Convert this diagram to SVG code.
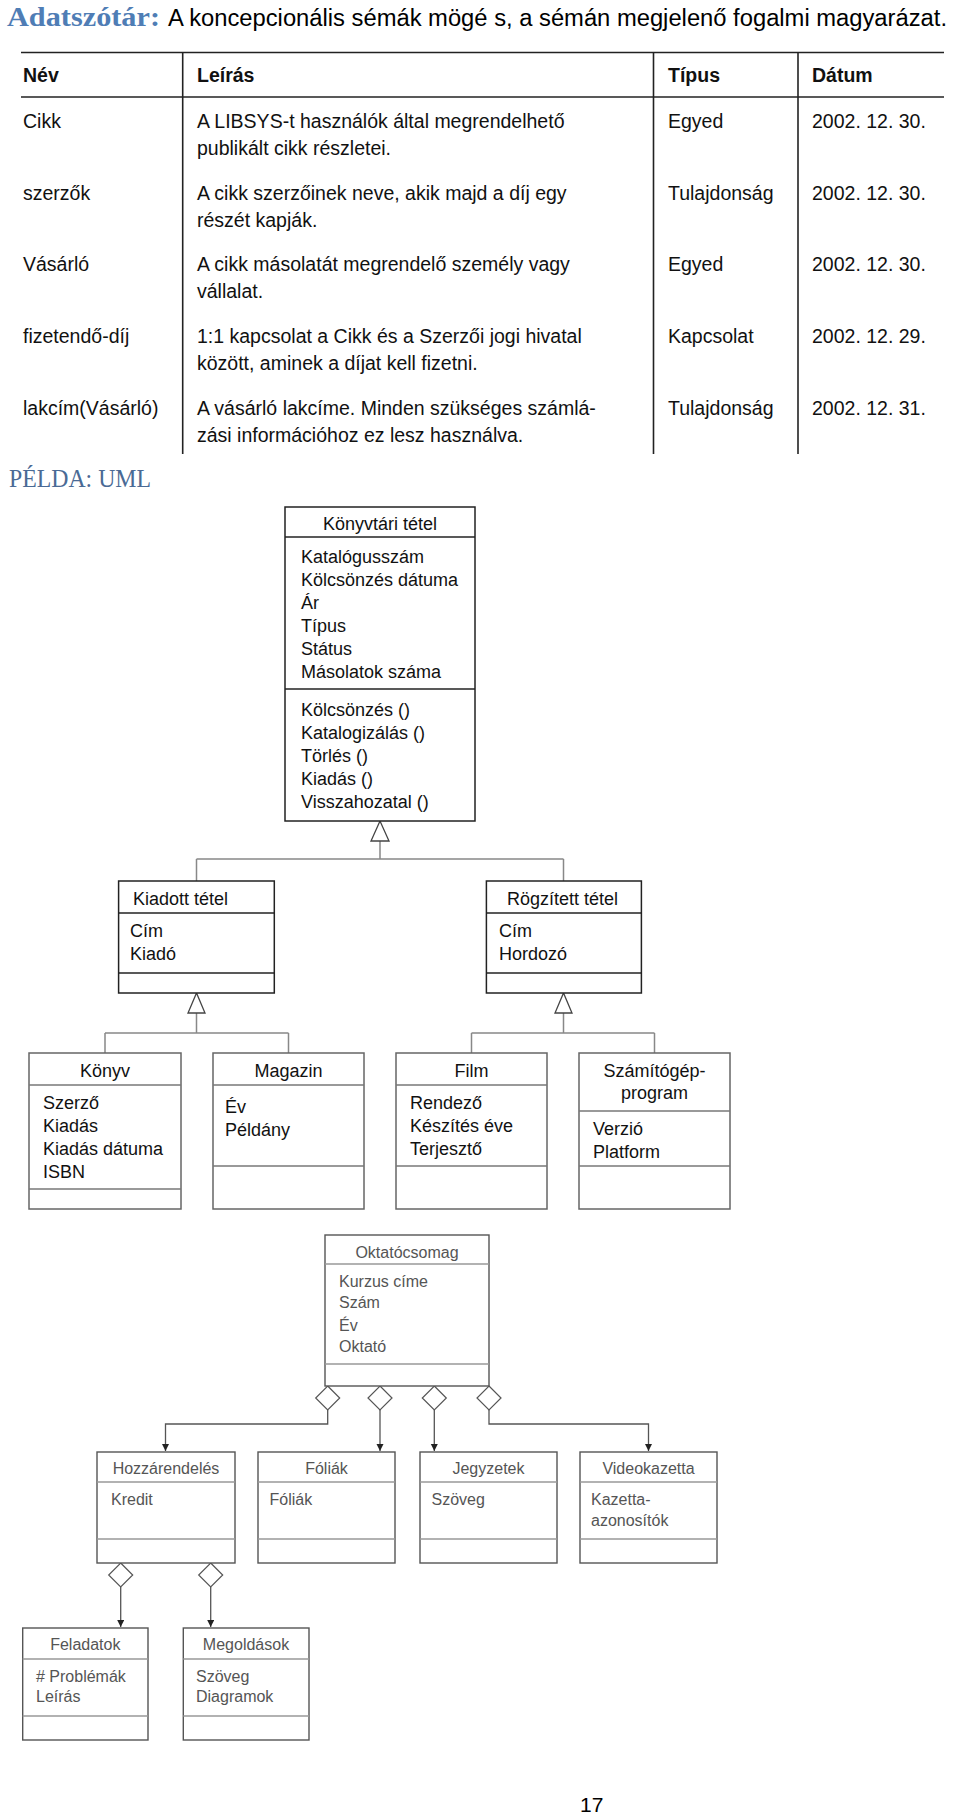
<svg xmlns="http://www.w3.org/2000/svg" width="960" height="1817" viewBox="0 0 960 1817">
<style>
.th1{font-family:"Liberation Serif",serif;font-weight:bold;font-size:27px;fill:#4F7DB5}
.ttl{font-family:"Liberation Sans",Arial,sans-serif;font-size:23px;fill:#000}
.ex{font-family:"Liberation Serif",serif;font-size:26px;fill:#4A6A95}
.th{font-family:"Liberation Sans",Arial,sans-serif;font-weight:bold;font-size:19.5px;fill:#111}
.td{font-family:"Liberation Sans",Arial,sans-serif;font-size:19.5px;fill:#111}
.tl{stroke:#222;stroke-width:1.6;fill:none}
.box{fill:#fff;stroke:#222;stroke-width:1.5}
.boxg{fill:#fff;stroke:#666;stroke-width:1.5}
.sep{stroke:#222;stroke-width:1.3;fill:none}
.sepg{stroke:#777;stroke-width:1.3;fill:none}
.t18{font-family:"Liberation Sans",Arial,sans-serif;font-size:18px;fill:#111}
.t16{font-family:"Liberation Sans",Arial,sans-serif;font-size:16px;fill:#555}
.c{text-anchor:middle}
.conn{fill:none;stroke:#888;stroke-width:1.5}
.gen{fill:#fff;stroke:#444;stroke-width:1.3}
.box3{fill:#fff;stroke:#555;stroke-width:1.4}
.sep3{stroke:#999;stroke-width:1.3;fill:none}
.conn3{fill:none;stroke:#555;stroke-width:1.3}
.dia{fill:#fff;stroke:#555;stroke-width:1.2}
.pg{font-family:"Liberation Sans",Arial,sans-serif;font-size:21px;fill:#000}
</style>
<defs>
<marker id="arr" markerWidth="8" markerHeight="10" refX="7" refY="3.5" orient="auto" markerUnits="userSpaceOnUse">
<path d="M0,0 L7,3.5 L0,7 Z" fill="#222"/>
</marker>
</defs>

<g id="title">
<text class="th1" x="7" y="26" textLength="153" lengthAdjust="spacingAndGlyphs">Adatszótár:</text>
<text class="ttl" x="168" y="26" textLength="779" lengthAdjust="spacingAndGlyphs">A koncepcionális sémák mögé s, a sémán megjelenő fogalmi magyarázat.</text>
</g>

<g id="table">
<line class="tl" x1="21" y1="52.5" x2="944" y2="52.5"/>
<line class="tl" x1="21" y1="97" x2="944" y2="97"/>
<line class="tl" x1="182.7" y1="52" x2="182.7" y2="454"/>
<line class="tl" x1="653.5" y1="52" x2="653.5" y2="454"/>
<line class="tl" x1="798" y1="52" x2="798" y2="454"/>
<text class="th" x="23" y="82">Név</text>
<text class="th" x="197" y="82">Leírás</text>
<text class="th" x="668" y="82">Típus</text>
<text class="th" x="812" y="82">Dátum</text>

<text class="td" x="23" y="127.5">Cikk</text>
<text class="td" x="197" y="127.5">A LIBSYS-t használók által megrendelhető</text>
<text class="td" x="197" y="154.5">publikált cikk részletei.</text>
<text class="td" x="668" y="127.5">Egyed</text>
<text class="td" x="812" y="127.5">2002. 12. 30.</text>

<text class="td" x="23" y="199.5">szerzők</text>
<text class="td" x="197" y="199.5">A cikk szerzőinek neve, akik majd a díj egy</text>
<text class="td" x="197" y="226.5">részét kapják.</text>
<text class="td" x="668" y="199.5">Tulajdonság</text>
<text class="td" x="812" y="199.5">2002. 12. 30.</text>

<text class="td" x="23" y="271">Vásárló</text>
<text class="td" x="197" y="271">A cikk másolatát megrendelő személy vagy</text>
<text class="td" x="197" y="298">vállalat.</text>
<text class="td" x="668" y="271">Egyed</text>
<text class="td" x="812" y="271">2002. 12. 30.</text>

<text class="td" x="23" y="343">fizetendő-díj</text>
<text class="td" x="197" y="343">1:1 kapcsolat a Cikk és a Szerzői jogi hivatal</text>
<text class="td" x="197" y="370">között, aminek a díjat kell fizetni.</text>
<text class="td" x="668" y="343">Kapcsolat</text>
<text class="td" x="812" y="343">2002. 12. 29.</text>

<text class="td" x="23" y="415">lakcím(Vásárló)</text>
<text class="td" x="197" y="415">A vásárló lakcíme. Minden szükséges számlá-</text>
<text class="td" x="197" y="442">zási információhoz ez lesz használva.</text>
<text class="td" x="668" y="415">Tulajdonság</text>
<text class="td" x="812" y="415">2002. 12. 31.</text>
</g>

<text id="example-heading" class="ex" x="9" y="487" textLength="142" lengthAdjust="spacingAndGlyphs">PÉLDA: UML</text>

<g id="connectors">
<path class="conn" d="M380,841 V859 M196.5,859 H563.5 M196.5,859 V881 M563.5,859 V881"/>
<path class="conn" d="M196.5,1013 V1033 M105,1033 H288.5 M105,1033 V1053 M288.5,1033 V1053"/>
<path class="conn" d="M563.5,1013 V1033 M471.5,1033 H654.5 M471.5,1033 V1053 M654.5,1033 V1053"/>
<polygon class="gen" points="380,821 371,841 389,841"/>
<polygon class="gen" points="196.5,993 188,1013 205,1013"/>
<polygon class="gen" points="563.5,993 555,1013 572,1013"/>

<path class="conn3" d="M327.7,1410 V1424 H165.5 V1451" marker-end="url(#arr)"/>
<path class="conn3" d="M380,1410 V1451" marker-end="url(#arr)"/>
<path class="conn3" d="M434.3,1410 V1451" marker-end="url(#arr)"/>
<path class="conn3" d="M489,1410 V1424 H648.5 V1451" marker-end="url(#arr)"/>
<polygon class="dia" points="327.7,1386 339.7,1398 327.7,1410 315.7,1398"/>
<polygon class="dia" points="380,1386 392,1398 380,1410 368,1398"/>
<polygon class="dia" points="434.3,1386 446.3,1398 434.3,1410 422.3,1398"/>
<polygon class="dia" points="489,1386 501,1398 489,1410 477,1398"/>

<path class="conn3" d="M120.7,1587 V1627" marker-end="url(#arr)"/>
<path class="conn3" d="M210.7,1587 V1627" marker-end="url(#arr)"/>
<polygon class="dia" points="120.7,1563 132.7,1575 120.7,1587 108.7,1575"/>
<polygon class="dia" points="210.7,1563 222.7,1575 210.7,1587 198.7,1575"/>
</g>

<g id="konyvtari-tetel">
<rect class="box" x="285" y="507" width="190" height="314"/>
<line class="sep" x1="285" y1="537" x2="475" y2="537"/>
<line class="sep" x1="285" y1="689" x2="475" y2="689"/>
<text class="t18 c" x="380" y="530">Könyvtári tétel</text>
<text class="t18" x="301" y="563">Katalógusszám</text>
<text class="t18" x="301" y="586">Kölcsönzés dátuma</text>
<text class="t18" x="301" y="609">Ár</text>
<text class="t18" x="301" y="632">Típus</text>
<text class="t18" x="301" y="655">Státus</text>
<text class="t18" x="301" y="678">Másolatok száma</text>
<text class="t18" x="301" y="716">Kölcsönzés ()</text>
<text class="t18" x="301" y="739">Katalogizálás ()</text>
<text class="t18" x="301" y="762">Törlés ()</text>
<text class="t18" x="301" y="785">Kiadás ()</text>
<text class="t18" x="301" y="808">Visszahozatal ()</text>
</g>

<g id="kiadott-tetel">
<rect class="box" x="118.6" y="881" width="155.7" height="112"/>
<line class="sep" x1="118.6" y1="913" x2="274.3" y2="913"/>
<line class="sep" x1="118.6" y1="973" x2="274.3" y2="973"/>
<text class="t18" x="133" y="905">Kiadott tétel</text>
<text class="t18" x="130" y="937">Cím</text>
<text class="t18" x="130" y="960">Kiadó</text>
</g>

<g id="rogzitett-tetel">
<rect class="box" x="486.4" y="881" width="155" height="112"/>
<line class="sep" x1="486.4" y1="913" x2="641.4" y2="913"/>
<line class="sep" x1="486.4" y1="973" x2="641.4" y2="973"/>
<text class="t18" x="507" y="905">Rögzített tétel</text>
<text class="t18" x="499" y="937">Cím</text>
<text class="t18" x="499" y="960">Hordozó</text>
</g>

<g id="konyv">
<rect class="boxg" x="29" y="1053" width="152" height="156"/>
<line class="sepg" x1="29" y1="1085" x2="181" y2="1085"/>
<line class="sepg" x1="29" y1="1189" x2="181" y2="1189"/>
<text class="t18 c" x="105" y="1077">Könyv</text>
<text class="t18" x="43" y="1109">Szerző</text>
<text class="t18" x="43" y="1132">Kiadás</text>
<text class="t18" x="43" y="1155">Kiadás dátuma</text>
<text class="t18" x="43" y="1178">ISBN</text>
</g>

<g id="magazin">
<rect class="boxg" x="213" y="1053" width="151" height="156"/>
<line class="sepg" x1="213" y1="1085" x2="364" y2="1085"/>
<line class="sepg" x1="213" y1="1166" x2="364" y2="1166"/>
<text class="t18 c" x="288.5" y="1077">Magazin</text>
<text class="t18" x="225" y="1113">Év</text>
<text class="t18" x="225" y="1136">Példány</text>
</g>

<g id="film">
<rect class="boxg" x="396" y="1053" width="151" height="156"/>
<line class="sepg" x1="396" y1="1085" x2="547" y2="1085"/>
<line class="sepg" x1="396" y1="1166" x2="547" y2="1166"/>
<text class="t18 c" x="471.5" y="1077">Film</text>
<text class="t18" x="410" y="1109">Rendező</text>
<text class="t18" x="410" y="1132">Készítés éve</text>
<text class="t18" x="410" y="1155">Terjesztő</text>
</g>

<g id="szamitogep-program">
<rect class="boxg" x="579" y="1053" width="151" height="156"/>
<line class="sepg" x1="579" y1="1111" x2="730" y2="1111"/>
<line class="sepg" x1="579" y1="1166" x2="730" y2="1166"/>
<text class="t18 c" x="654.5" y="1077">Számítógép-</text>
<text class="t18 c" x="654.5" y="1099">program</text>
<text class="t18" x="593" y="1135">Verzió</text>
<text class="t18" x="593" y="1158">Platform</text>
</g>

<g id="oktatocsomag">
<rect class="box3" x="325" y="1235" width="164" height="151"/>
<line class="sep3" x1="325" y1="1264" x2="489" y2="1264"/>
<line class="sep3" x1="325" y1="1364" x2="489" y2="1364"/>
<text class="t16 c" x="407" y="1258">Oktatócsomag</text>
<text class="t16" x="339" y="1287">Kurzus címe</text>
<text class="t16" x="339" y="1308">Szám</text>
<text class="t16" x="339" y="1331">Év</text>
<text class="t16" x="339" y="1352">Oktató</text>
</g>

<g id="hozzarendeles">
<rect class="box3" x="97" y="1452" width="138" height="111"/>
<line class="sep3" x1="97" y1="1482" x2="235" y2="1482"/>
<line class="sep3" x1="97" y1="1539" x2="235" y2="1539"/>
<text class="t16 c" x="166" y="1474">Hozzárendelés</text>
<text class="t16" x="111" y="1505">Kredit</text>
</g>

<g id="foliak">
<rect class="box3" x="258" y="1452" width="137" height="111"/>
<line class="sep3" x1="258" y1="1482" x2="395" y2="1482"/>
<line class="sep3" x1="258" y1="1539" x2="395" y2="1539"/>
<text class="t16 c" x="326.5" y="1474">Fóliák</text>
<text class="t16" x="269.5" y="1505">Fóliák</text>
</g>

<g id="jegyzetek">
<rect class="box3" x="420" y="1452" width="137" height="111"/>
<line class="sep3" x1="420" y1="1482" x2="557" y2="1482"/>
<line class="sep3" x1="420" y1="1539" x2="557" y2="1539"/>
<text class="t16 c" x="488.5" y="1474">Jegyzetek</text>
<text class="t16" x="431.5" y="1505">Szöveg</text>
</g>

<g id="videokazetta">
<rect class="box3" x="580" y="1452" width="137" height="111"/>
<line class="sep3" x1="580" y1="1482" x2="717" y2="1482"/>
<line class="sep3" x1="580" y1="1539" x2="717" y2="1539"/>
<text class="t16 c" x="648.5" y="1474">Videokazetta</text>
<text class="t16" x="591" y="1505">Kazetta-</text>
<text class="t16" x="591" y="1526">azonosítók</text>
</g>

<g id="feladatok">
<rect class="box3" x="22.7" y="1628" width="125.3" height="112"/>
<line class="sep3" x1="22.7" y1="1659" x2="148" y2="1659"/>
<line class="sep3" x1="22.7" y1="1716" x2="148" y2="1716"/>
<text class="t16 c" x="85.3" y="1650">Feladatok</text>
<text class="t16" x="36" y="1682"># Problémák</text>
<text class="t16" x="36" y="1702">Leírás</text>
</g>

<g id="megoldasok">
<rect class="box3" x="183.3" y="1628" width="125.7" height="112"/>
<line class="sep3" x1="183.3" y1="1659" x2="309" y2="1659"/>
<line class="sep3" x1="183.3" y1="1716" x2="309" y2="1716"/>
<text class="t16 c" x="246" y="1650">Megoldások</text>
<text class="t16" x="196" y="1682">Szöveg</text>
<text class="t16" x="196" y="1702">Diagramok</text>
</g>

<text id="page-number" class="pg" x="580" y="1812">17</text>
</svg>
